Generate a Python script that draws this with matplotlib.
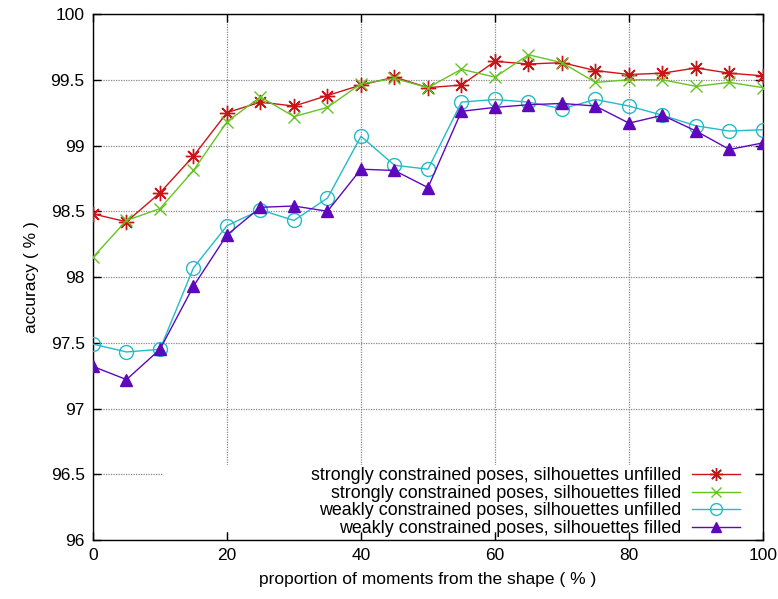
import matplotlib
matplotlib.use("Agg")
import matplotlib.pyplot as plt
from matplotlib.patches import Rectangle

plt.rcParams["font.family"] = ["Liberation Sans", "DejaVu Sans"]
plt.rcParams["font.size"] = 11

proportion = [0, 5, 10, 15, 20, 25, 30, 35, 40, 45, 50,
              55, 60, 65, 70, 75, 80, 85, 90, 95, 100]

strong_unfilled = [98.48, 98.42, 98.64, 98.92, 99.25, 99.33, 99.30, 99.38, 99.46, 99.52, 99.44,
                   99.46, 99.64, 99.62, 99.63, 99.57, 99.54, 99.55, 99.59, 99.55, 99.53]
strong_filled = [98.15, 98.43, 98.52, 98.81, 99.18, 99.37, 99.22, 99.29, 99.47, 99.51, 99.44,
                 99.58, 99.52, 99.69, 99.63, 99.48, 99.50, 99.50, 99.45, 99.48, 99.44]
weak_unfilled = [97.49, 97.43, 97.45, 98.07, 98.39, 98.51, 98.43, 98.60, 99.07, 98.85, 98.82,
                 99.33, 99.35, 99.33, 99.28, 99.35, 99.30, 99.23, 99.15, 99.11, 99.12]
weak_filled = [97.32, 97.22, 97.45, 97.93, 98.32, 98.53, 98.54, 98.50, 98.82, 98.81, 98.68,
               99.26, 99.29, 99.31, 99.32, 99.30, 99.17, 99.23, 99.11, 98.97, 99.02]

labels = ["strongly constrained poses, silhouettes unfilled",
          "strongly constrained poses, silhouettes filled",
          "weakly constrained poses, silhouettes unfilled",
          "weakly constrained poses, silhouettes filled"]

R = "#cc1418"
G = "#66c422"
C = "#22bcc6"
P = "#5e08bc"

fig = plt.figure(figsize=(7.78, 5.99), dpi=100)
ax = fig.add_axes([0.1195, 0.0985, 0.8612, 0.8781])

ax.plot(proportion, strong_unfilled, color=R, lw=1, marker=(8, 2, 0), ms=11, mew=1, label=labels[0], zorder=3)
ax.plot(proportion, strong_filled, color=G, lw=1, marker="x", ms=9, mew=1, label=labels[1], zorder=3)
ax.plot(proportion, weak_unfilled, color=C, lw=1, marker="o", ms=10, mfc="none", mew=1, label=labels[2], zorder=3)
ax.plot(proportion, weak_filled, color=P, lw=1, marker="^", ms=8, label=labels[3], zorder=3)

ax.set_xlim(0, 100)
ax.set_ylim(96, 100)
ax.set_xticks([0, 20, 40, 60, 80, 100])
ax.set_yticks([96, 96.5, 97, 97.5, 98, 98.5, 99, 99.5, 100])
ax.set_yticklabels(["96", "96.5", "97", "97.5", "98", "98.5", "99", "99.5", "100"])
ax.tick_params(direction="in", top=True, right=True, length=6, width=1, pad=6, labelsize=12.5)
ax.grid(True, color="#888888", linestyle=(0, (1, 1)), lw=0.9)
ax.set_axisbelow(True)
for s in ax.spines.values():
    s.set_linewidth(1)

# key background hides the grid behind it
ax.add_patch(Rectangle((10.4, 96.06), 88.4, 0.51, facecolor="white", edgecolor="none", zorder=1))

leg = ax.legend(loc="lower right", bbox_to_anchor=(0.985, -0.018), frameon=False, markerfirst=False,
                handlelength=2.7, handletextpad=0.6, labelspacing=0.03, fontsize=12.9,
                borderaxespad=0.3, markerscale=0.85)

ax.set_xlabel("proportion of moments from the shape ( % )", fontsize=12.5, labelpad=6)
ax.set_ylabel("accuracy ( % )", fontsize=12.5, labelpad=8)

fig.savefig("out.png")
